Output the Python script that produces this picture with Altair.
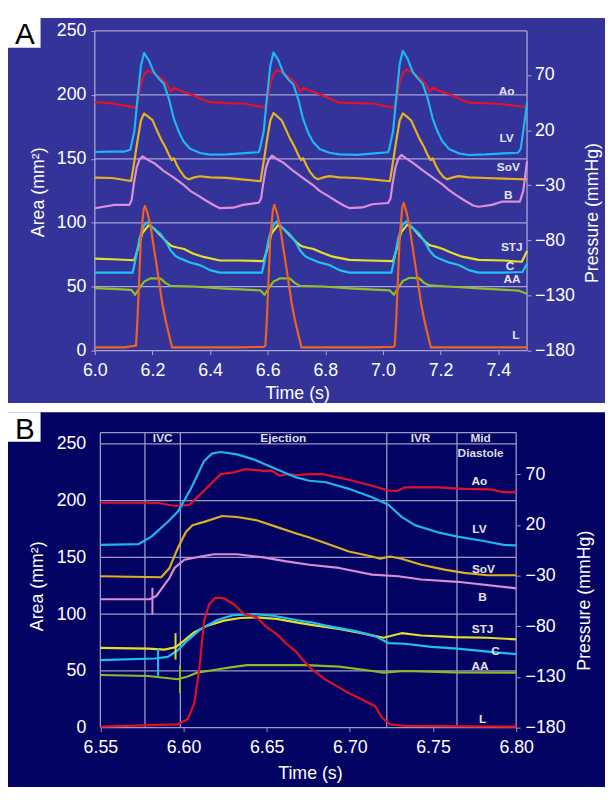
import altair as alt
import pandas as pd

FONT = "Liberation Sans"

# ---------------- Panel A (Ao, LV in mmHg; others in mm^2) ----------------
A_X_TICKS = [6.0, 6.2, 6.4, 6.6, 6.8, 7.0, 7.2, 7.4]
AREA_TICKS = [0, 50, 100, 150, 200, 250]
PRESSURE_TICKS = [-180, -130, -80, -30, 20, 70]

A_AO = [(6.000, 45.5), (6.050, 44.5), (6.100, 42.5), (6.143, 40.2), (6.150, 48.0), (6.160, 62.0), (6.170, 70.0),
        (6.183, 74.0), (6.200, 72.5), (6.217, 69.5), (6.235, 66.0), (6.250, 62.0), (6.263, 55.0), (6.275, 58.5),
        (6.300, 55.5), (6.342, 51.6), (6.370, 48.0), (6.400, 45.5), (6.460, 44.5), (6.520, 44.0),
        (6.590, 40.5), (6.599, 48.0), (6.609, 62.0), (6.619, 70.0), (6.632, 74.5), (6.649, 72.5), (6.666, 69.5),
        (6.684, 66.0), (6.699, 62.0), (6.712, 55.0), (6.724, 58.5), (6.749, 55.5), (6.791, 51.5), (6.819, 48.0),
        (6.849, 45.0), (6.909, 44.5), (6.969, 44.0),
        (7.039, 40.0), (7.048, 49.0), (7.058, 63.0), (7.068, 71.0), (7.081, 75.0), (7.098, 73.0), (7.115, 70.0),
        (7.133, 66.5), (7.148, 62.0), (7.161, 55.0), (7.173, 58.5), (7.198, 55.5), (7.240, 51.5), (7.268, 48.0),
        (7.298, 45.0), (7.358, 44.5), (7.418, 43.5), (7.500, 40.8)]

A_LV = [(6.000, 0.2), (6.050, 0.6), (6.100, 0.5), (6.123, 2.3), (6.137, 18.7), (6.148, 48.5), (6.160, 78.4),
        (6.171, 90.0), (6.188, 83.0), (6.205, 72.4), (6.223, 66.5), (6.240, 62.0), (6.257, 48.5), (6.274, 30.7),
        (6.291, 18.7), (6.308, 9.8), (6.331, 3.2), (6.365, -0.7), (6.400, -2.2), (6.460, -2.0), (6.520, -0.8),
        (6.568, 0.0), (6.572, 2.3), (6.586, 18.7), (6.597, 48.5), (6.609, 78.4), (6.620, 90.5), (6.637, 83.5),
        (6.654, 72.0), (6.672, 66.0), (6.689, 61.5), (6.706, 48.0), (6.723, 30.0), (6.740, 18.0), (6.757, 9.5),
        (6.780, 3.0), (6.814, -0.5), (6.849, -2.0), (6.909, -2.4), (6.969, -1.0),
        (7.017, 0.0), (7.021, 2.3), (7.035, 19.0), (7.046, 49.0), (7.058, 80.0), (7.069, 92.0), (7.086, 84.5),
        (7.103, 73.0), (7.121, 67.0), (7.138, 62.0), (7.155, 49.0), (7.172, 31.0), (7.189, 19.0), (7.206, 10.0),
        (7.229, 3.0), (7.263, -1.0), (7.298, -2.5), (7.358, -2.0), (7.418, -1.0), (7.468, -0.5), (7.478, 3.0),
        (7.490, 25.0), (7.500, 45.0)]

A_SOV = [(6.000, 135.3), (6.060, 135.0), (6.126, 132.7), (6.135, 145.0), (6.148, 164.0), (6.160, 180.0),
         (6.171, 185.4), (6.185, 183.0), (6.200, 180.3), (6.214, 173.0), (6.228, 166.1), (6.245, 159.0),
         (6.257, 153.2), (6.267, 149.0), (6.274, 150.6), (6.285, 145.0), (6.297, 140.3), (6.313, 135.5),
         (6.325, 133.9), (6.345, 135.5), (6.365, 136.4), (6.400, 135.5), (6.457, 135.1), (6.510, 134.0),
         (6.575, 132.5), (6.584, 145.0), (6.597, 164.0), (6.609, 180.0), (6.620, 185.8), (6.634, 183.0),
         (6.649, 180.0), (6.663, 173.0), (6.677, 166.0), (6.694, 159.0), (6.706, 153.0), (6.716, 149.0),
         (6.723, 150.5), (6.734, 145.0), (6.746, 140.0), (6.762, 135.5), (6.774, 134.0), (6.794, 135.5),
         (6.814, 136.5), (6.849, 135.5), (6.906, 135.0), (6.959, 134.0),
         (7.024, 132.5), (7.033, 145.0), (7.046, 164.0), (7.058, 180.0), (7.069, 185.5), (7.083, 183.0),
         (7.098, 180.0), (7.112, 173.0), (7.126, 166.0), (7.143, 159.0), (7.155, 153.0), (7.165, 149.0),
         (7.172, 150.5), (7.183, 145.0), (7.195, 140.0), (7.211, 135.5), (7.223, 134.0), (7.243, 135.5),
         (7.263, 136.5), (7.298, 135.5), (7.355, 135.0), (7.420, 134.5), (7.500, 134.0)]

A_B = [(6.000, 111.4), (6.068, 114.0), (6.120, 114.0), (6.128, 118.0), (6.135, 130.0), (6.145, 143.0),
       (6.155, 149.5), (6.166, 152.0), (6.185, 149.0), (6.205, 146.8), (6.240, 140.4), (6.274, 135.3),
       (6.308, 129.6), (6.331, 125.0), (6.360, 121.0), (6.388, 117.0), (6.415, 113.5), (6.434, 111.4),
       (6.480, 111.8), (6.514, 114.0),
       (6.569, 115.7), (6.577, 119.0), (6.584, 130.0), (6.594, 143.0), (6.604, 149.5), (6.615, 152.5),
       (6.634, 149.5), (6.654, 147.0), (6.689, 140.5), (6.723, 135.0), (6.757, 129.5), (6.780, 125.0),
       (6.809, 121.0), (6.837, 117.0), (6.864, 113.5), (6.883, 111.5), (6.929, 112.0), (6.963, 114.5),
       (7.018, 115.5), (7.026, 119.0), (7.033, 130.0), (7.043, 143.0), (7.053, 150.0), (7.064, 153.0),
       (7.083, 150.0), (7.103, 147.0), (7.138, 141.0), (7.172, 135.5), (7.206, 130.0), (7.229, 125.5),
       (7.258, 121.0), (7.286, 117.0), (7.313, 113.5), (7.332, 112.5), (7.378, 114.0), (7.412, 116.5),
       (7.475, 116.5), (7.487, 125.0), (7.500, 148.0)]

A_STJ = [(6.000, 72.0), (6.060, 71.5), (6.137, 70.7), (6.150, 80.0), (6.165, 92.0), (6.188, 98.5), (6.205, 95.5),
         (6.228, 90.0), (6.250, 85.0), (6.263, 82.3), (6.272, 81.5), (6.290, 80.5), (6.310, 79.5), (6.340, 76.0),
         (6.377, 73.3), (6.434, 70.5), (6.500, 70.5),
         (6.586, 70.0), (6.599, 80.0), (6.614, 92.0), (6.637, 98.5), (6.654, 95.5), (6.677, 90.0), (6.699, 85.0),
         (6.712, 82.5), (6.721, 81.5), (6.739, 80.5), (6.759, 79.5), (6.789, 76.5), (6.826, 73.5), (6.883, 71.0),
         (6.950, 70.5),
         (7.035, 70.0), (7.048, 80.0), (7.063, 92.5), (7.086, 99.0), (7.103, 96.0), (7.126, 90.0), (7.148, 85.0),
         (7.161, 82.5), (7.170, 82.0), (7.188, 81.0), (7.208, 79.5), (7.238, 76.5), (7.275, 73.5), (7.332, 71.0),
         (7.420, 70.5), (7.482, 69.5), (7.500, 78.0)]

A_C = [(6.000, 61.0), (6.131, 61.0), (6.140, 70.0), (6.155, 88.0), (6.170, 98.0), (6.183, 100.5), (6.200, 96.5),
       (6.228, 91.3), (6.250, 84.0), (6.263, 78.4), (6.280, 74.0), (6.297, 72.0), (6.330, 69.0), (6.365, 66.9),
       (6.400, 63.0), (6.434, 61.0), (6.500, 61.0),
       (6.580, 61.0), (6.589, 70.0), (6.604, 88.0), (6.619, 98.0), (6.632, 101.0), (6.649, 96.5), (6.677, 91.0),
       (6.699, 84.0), (6.712, 78.5), (6.729, 74.0), (6.746, 72.0), (6.779, 69.0), (6.814, 67.0), (6.849, 63.0),
       (6.883, 61.0), (6.950, 61.0),
       (7.029, 61.0), (7.038, 70.0), (7.053, 88.0), (7.068, 98.5), (7.081, 101.0), (7.098, 97.0), (7.126, 91.5),
       (7.148, 84.0), (7.161, 78.5), (7.178, 74.0), (7.195, 72.0), (7.228, 69.0), (7.263, 67.0), (7.298, 63.0),
       (7.332, 61.0), (7.420, 61.0), (7.484, 61.5), (7.500, 68.0)]

A_AA = [(6.000, 48.9), (6.060, 48.3), (6.126, 47.6), (6.140, 43.7), (6.155, 49.0), (6.171, 54.0), (6.194, 56.6),
        (6.228, 56.3), (6.245, 53.0), (6.263, 50.7), (6.342, 50.2), (6.450, 48.5),
        (6.575, 47.1), (6.589, 43.7), (6.604, 49.0), (6.620, 54.0), (6.643, 56.6), (6.677, 56.3), (6.694, 53.0),
        (6.712, 50.7), (6.791, 50.2), (6.899, 48.5),
        (7.024, 47.1), (7.038, 43.7), (7.053, 49.0), (7.069, 54.5), (7.092, 57.0), (7.126, 56.5), (7.143, 53.0),
        (7.161, 51.0), (7.240, 50.0), (7.348, 48.5), (7.470, 47.0), (7.500, 44.5)]

A_L = [(6.000, 2.6), (6.100, 2.6), (6.143, 4.0), (6.148, 24.4), (6.160, 88.7), (6.169, 110.0), (6.174, 113.2),
       (6.183, 107.5), (6.194, 96.5), (6.217, 63.0), (6.234, 37.3), (6.245, 24.4), (6.257, 12.9), (6.268, 2.6),
       (6.400, 2.6), (6.500, 2.6),
       (6.586, 3.0), (6.592, 4.0), (6.597, 24.4), (6.609, 88.7), (6.618, 110.0), (6.623, 114.0), (6.632, 108.0),
       (6.643, 96.5), (6.666, 63.0), (6.683, 37.3), (6.694, 24.4), (6.706, 12.9), (6.717, 2.6), (6.850, 2.6),
       (6.950, 2.6),
       (7.035, 3.0), (7.041, 4.0), (7.046, 24.4), (7.058, 89.0), (7.067, 112.0), (7.072, 115.5), (7.081, 109.0),
       (7.092, 97.0), (7.115, 63.0), (7.132, 37.3), (7.143, 24.4), (7.155, 12.9), (7.166, 2.6), (7.300, 2.6),
       (7.500, 2.6)]

A_LABELS = [("Ao", 7.429, 202.7), ("LV", 7.429, 166.4), ("SoV", 7.435, 143.5), ("B", 7.435, 121.7),
            ("STJ", 7.447, 80.8), ("C", 7.441, 66.1), ("AA", 7.448, 55.8), ("L", 7.461, 12.1)]

# ---------------- Panel B ----------------
B_X_TICKS = [6.55, 6.60, 6.65, 6.70, 6.75, 6.80]

B_AO = [(6.550, 41.8), (6.570, 41.8), (6.585, 41.5), (6.595, 38.6), (6.6035, 39.7), (6.6124, 53.8), (6.6223, 70.0),
        (6.6302, 71.7), (6.6371, 74.9), (6.648, 73.3), (6.653, 73.5), (6.6579, 68.4), (6.662, 70.0), (6.6678, 69.0),
        (6.6767, 70.0), (6.6836, 70.0), (6.6994, 64.5), (6.7133, 58.6), (6.7232, 53.8), (6.7282, 53.4),
        (6.7331, 57.0), (6.7529, 57.0), (6.7687, 55.5), (6.7846, 55.0), (6.7925, 52.2), (6.800, 52.2)]

B_LV = [(6.550, 0.2), (6.5728, 0.9), (6.5807, 8.4), (6.5906, 23.0), (6.5965, 32.8), (6.6044, 55.5), (6.6124, 83.0),
        (6.6173, 90.5), (6.6223, 91.8), (6.6322, 89.5), (6.6421, 84.6), (6.6559, 74.9), (6.6678, 66.8),
        (6.6757, 63.5), (6.6856, 62.0), (6.6994, 55.5), (6.7133, 47.3), (6.7232, 39.8), (6.7311, 27.9),
        (6.739, 19.7), (6.7529, 12.6), (6.7647, 8.4), (6.7806, 4.1), (6.7925, 0.2), (6.800, -0.3)]

B_SOV = [(6.550, 133.4), (6.5866, 132.5), (6.5916, 140.7), (6.5965, 158.0), (6.6015, 172.6), (6.6054, 178.3),
         (6.6124, 181.3), (6.6233, 186.5), (6.6322, 185.6), (6.644, 182.7), (6.6559, 176.9), (6.6678, 171.1),
         (6.6757, 167.5), (6.6856, 162.4), (6.6994, 155.2), (6.7133, 150.8), (6.7183, 148.8), (6.7242, 150.8),
         (6.7311, 148.8), (6.743, 143.5), (6.7568, 139.2), (6.7687, 136.3), (6.7826, 134.3), (6.800, 134.3)]

B_B = [(6.550, 113.1), (6.5797, 113.1), (6.5837, 116.0), (6.5886, 126.0), (6.5916, 132.0), (6.5946, 140.7),
       (6.6005, 147.9), (6.6104, 150.8), (6.6183, 152.8), (6.6322, 152.8), (6.648, 150.0), (6.6618, 146.5),
       (6.6757, 143.5), (6.6935, 140.7), (6.7133, 134.8), (6.7291, 133.4), (6.743, 130.5), (6.7647, 128.5),
       (6.800, 122.7)]

B_STJ = [(6.550, 70.2), (6.5787, 69.6), (6.5886, 68.7), (6.5955, 71.1), (6.6005, 76.9), (6.6065, 84.1),
         (6.6144, 89.9), (6.6243, 94.3), (6.6341, 96.6), (6.644, 97.2), (6.6559, 95.8), (6.6678, 92.8),
         (6.6767, 90.5), (6.6935, 87.0), (6.7093, 82.6), (6.7202, 79.2), (6.7311, 83.2), (6.743, 81.2),
         (6.7628, 79.8), (6.7826, 79.2), (6.800, 77.8)]

B_C = [(6.550, 59.5), (6.5827, 60.9), (6.5906, 62.4), (6.5965, 68.2), (6.6025, 76.9), (6.6104, 87.0),
       (6.6203, 94.8), (6.6302, 99.2), (6.6421, 100.0), (6.654, 98.6), (6.6678, 94.8), (6.6767, 92.8),
       (6.6856, 89.9), (6.7034, 85.0), (6.7153, 80.4), (6.7232, 74.5), (6.7331, 73.9), (6.749, 71.1),
       (6.7647, 69.6), (6.7846, 66.7), (6.800, 64.7)]

B_AA = [(6.550, 46.4), (6.5787, 45.5), (6.5965, 42.6), (6.6025, 45.0), (6.6084, 48.5), (6.6183, 50.8),
        (6.6282, 53.1), (6.6381, 55.1), (6.6579, 55.1), (6.6737, 55.1), (6.6935, 53.7), (6.7093, 50.8),
        (6.7202, 48.5), (6.7331, 49.9), (6.7628, 48.7), (6.800, 48.5)]

B_L = [(6.550, 0.9), (6.5965, 2.9), (6.6025, 7.3), (6.6065, 21.7), (6.6094, 50.8), (6.6124, 94.3), (6.6154, 108.7),
       (6.6193, 114.6), (6.6243, 114.0), (6.6302, 108.7), (6.6361, 100.6), (6.644, 97.2), (6.650, 88.5),
       (6.6559, 82.6), (6.6618, 73.9), (6.6678, 66.7), (6.6718, 59.5), (6.6767, 52.0), (6.6856, 42.1),
       (6.6975, 31.9), (6.7093, 23.2), (6.7153, 18.9), (6.7193, 8.7), (6.7242, 2.9), (6.7331, 1.5), (6.800, 0.9)]

B_LABELS = [("Ao", 6.7779, 217.5), ("LV", 6.7779, 175.0), ("SoV", 6.7803, 139.8), ("B", 6.7798, 115.4),
            ("STJ", 6.7798, 86.9), ("C", 6.7875, 67.6), ("AA", 6.7782, 54.3), ("L", 6.7798, 7.3)]

B_PHASE_LINES = [6.5768, 6.5981, 6.7222, 6.7644]
B_PHASE_LABELS = [("IVC", 6.5875, 255.0), ("Ejection", 6.6600, 255.0), ("IVR", 6.7425, 255.0),
                  ("Mid", 6.7786, 255.0), ("Diastole", 6.7786, 242.0)]
# marker ticks (series, time, from, to)
B_MARKERS = [("B", 6.5813, 99.5, 123.3), ("C", 6.5847, 45.6, 69.6),
             ("STJ", 6.5952, 60.0, 83.2), ("AA", 6.5979, 30.4, 55.1)]

A_COLORS = {"Ao": "#e3112d", "LV": "#1fb7ef", "SoV": "#e6b21f", "B": "#de8fd8", "STJ": "#e4e12c",
            "C": "#1fc3f3", "AA": "#8fbf27", "L": "#f1621f"}
B_COLORS = {"Ao": "#e0102c", "LV": "#1fb4ec", "SoV": "#dfae22", "B": "#dc8cd4", "STJ": "#e2df2a",
            "C": "#1fc0f0", "AA": "#8cbc24", "L": "#e0101e"}


def frame(series, colors):
    rows = []
    for name, pts in series.items():
        for t, v in pts:
            rows.append({"s": name, "t": t, "v": v, "col": colors[name]})
    return pd.DataFrame(rows)


ONE = pd.DataFrame({"d": [0]})


def axis(**kw):
    base = dict(labelFont=FONT, labelFontSize=18, labelColor="white", titleFont=FONT, titleFontSize=18,
                titleColor="white", titleFontWeight="normal", tickSize=4, domain=False, grid=False,
                labelFlush=False, labelOverlap=False, zindex=1)
    base.update(kw)
    return alt.Axis(**base)


def panel(area_series, press_series, colors, labels, x_dom, frame_x, x_ticks, x_fmt, a_dom, p_dom, w, h,
          bg_col, line_col, bg_box, letter, letter_box, letter_xy, xa, la, ra, vlines, hlines, extra=None):
    xs = alt.Scale(domain=x_dom, nice=False, zero=False)
    ys = alt.Scale(domain=a_dom, nice=False, zero=False)
    ps = alt.Scale(domain=p_dom, nice=False, zero=False)

    x0, x1, y0, y1 = bg_box
    bg = alt.Chart(ONE).mark_rect(color=bg_col).encode(
        x=alt.value(x0), x2=alt.value(x1), y=alt.value(y0), y2=alt.value(y1))
    bx0, bx1, by0, by1 = letter_box
    box = alt.Chart(ONE).mark_rect(color="white").encode(
        x=alt.value(bx0), x2=alt.value(bx1), y=alt.value(by0), y2=alt.value(by1))
    let = alt.Chart(ONE).mark_text(text=letter, font=FONT, fontSize=30, color="black",
                                   align="center", baseline="middle").encode(
        x=alt.value(letter_xy[0]), y=alt.value(letter_xy[1]))

    gdf = pd.DataFrame({"g": hlines, "x0": frame_x[0], "x1": frame_x[1]})
    grid = alt.Chart(gdf).mark_rule(color=line_col, strokeWidth=1.3).encode(
        x=alt.X("x0:Q", scale=xs, axis=axis(orient="bottom", values=x_ticks, format=x_fmt, title="Time (s)",
                                           tickColor=line_col, **xa)),
        x2="x1:Q",
        y=alt.Y("g:Q", scale=ys, axis=axis(orient="left", values=AREA_TICKS, title="Area (mm²)",
                                          tickColor=line_col, **la)))
    vr = alt.Chart(pd.DataFrame({"x": vlines})).mark_rule(color=line_col, strokeWidth=1.3).encode(
        x=alt.X("x:Q", scale=xs, axis=None))

    dfa = frame(area_series, colors)
    lines_a = alt.Chart(dfa).mark_line(strokeWidth=2.2, strokeJoin="round").encode(
        x=alt.X("t:Q", scale=xs, axis=None), y=alt.Y("v:Q", scale=ys, axis=None),
        color=alt.Color("col:N", scale=None), detail="s:N")

    lab = pd.DataFrame(labels, columns=["s", "t", "v"])
    texts = alt.Chart(lab).mark_text(font=FONT, fontSize=12, fontWeight="bold", color="#e4e4ec",
                                     align="center", baseline="middle").encode(
        x=alt.X("t:Q", scale=xs, axis=None), y=alt.Y("v:Q", scale=ys, axis=None), text="s:N")

    dfp = frame(press_series, colors)
    lines_p = alt.Chart(dfp).mark_line(strokeWidth=2.2, strokeJoin="round").encode(
        x=alt.X("t:Q", scale=xs, axis=None),
        y=alt.Y("v:Q", scale=ps, axis=axis(orient="right", values=PRESSURE_TICKS, title="Pressure (mmHg)",
                                          tickColor=line_col, **ra)),
        color=alt.Color("col:N", scale=None), detail="s:N")

    layers = [bg, box, let, grid, vr, lines_a]
    if extra is not None:
        layers += extra(xs, ys)
    layers += [lines_p, texts]
    return alt.layer(*layers).resolve_scale(x="independent", y="independent").properties(width=w, height=h)


# ----- Panel A -----
A = panel(
    {"SoV": A_SOV, "B": A_B, "STJ": A_STJ, "C": A_C, "AA": A_AA, "L": A_L},
    {"Ao": A_AO, "LV": A_LV}, A_COLORS, A_LABELS,
    [6.0, 7.5], (6.0, 7.5), A_X_TICKS, ".1f", [0, 250], [-180, 110], 438, 324,
    "#33339a", "#a6a6d6", (-88, 517, -13, 377), "A", (-88, -55, -13, 17), (-71, 4),
    dict(labelPadding=7, titleX=205, titleY=43, titleBaseline="middle", titleAlign="center"),
    dict(labelPadding=5, titleX=-57, titleY=163, titleAngle=270, titleBaseline="middle", titleAlign="center"),
    dict(labelPadding=3.5, titleX=66, titleY=184, titleAngle=270, titleBaseline="middle", titleAlign="center"),
    [6.0, 7.5], AREA_TICKS,
)


def b_extra(xs, ys):
    mk = pd.DataFrame(B_MARKERS, columns=["s", "t", "y1", "y2"])
    mk["col"] = [B_COLORS[s] for s in mk["s"]]
    markers = alt.Chart(mk).mark_rule(strokeWidth=2).encode(
        x=alt.X("t:Q", scale=xs, axis=None), y=alt.Y("y1:Q", scale=ys, axis=None), y2="y2:Q",
        color=alt.Color("col:N", scale=None))
    ph = pd.DataFrame(B_PHASE_LABELS, columns=["s", "t", "v"])
    phase = alt.Chart(ph).mark_text(font=FONT, fontSize=12, fontWeight="bold", color="#dcdce4",
                                    align="center", baseline="middle").encode(
        x=alt.X("t:Q", scale=xs, axis=None), y=alt.Y("v:Q", scale=ys, axis=None), text="s:N")
    return [markers, phase]


# B plot area starts 5.6 px left of the 6.55 frame so both panels share a left edge
B = panel(
    {"SoV": B_SOV, "B": B_B, "STJ": B_STJ, "C": B_C, "AA": B_AA, "L": B_L},
    {"Ao": B_AO, "LV": B_LV}, B_COLORS, B_LABELS,
    [6.54668, 6.80], (6.55, 6.80), B_X_TICKS, ".2f", [0, 260], [-180, 111], 427, 299,
    "#030363", "#9a9ac4", (-88, 517, -20.7, 359.3), "B", (-88, -55, -20.7, 9.3), (-71, -2),
    dict(labelPadding=7, titleX=218, titleY=46.6, titleBaseline="middle", titleAlign="center"),
    dict(labelPadding=9.2, tickSize=0, titleX=-57.7, titleY=155.3, titleAngle=270, titleBaseline="middle",
         titleAlign="center"),
    dict(labelPadding=5, titleX=69.6, titleY=169.8, titleAngle=270, titleBaseline="middle", titleAlign="center"),
    [6.55, 6.80] + B_PHASE_LINES, AREA_TICKS + [260], extra=b_extra,
)

chart = alt.vconcat(A, B, spacing=9).properties(
    padding={"left": 0, "top": 5, "right": 0, "bottom": 0}
).configure(background="white").configure_view(strokeWidth=0)

chart.save("out.html", embed_options={"renderer": "svg", "actions": False})
